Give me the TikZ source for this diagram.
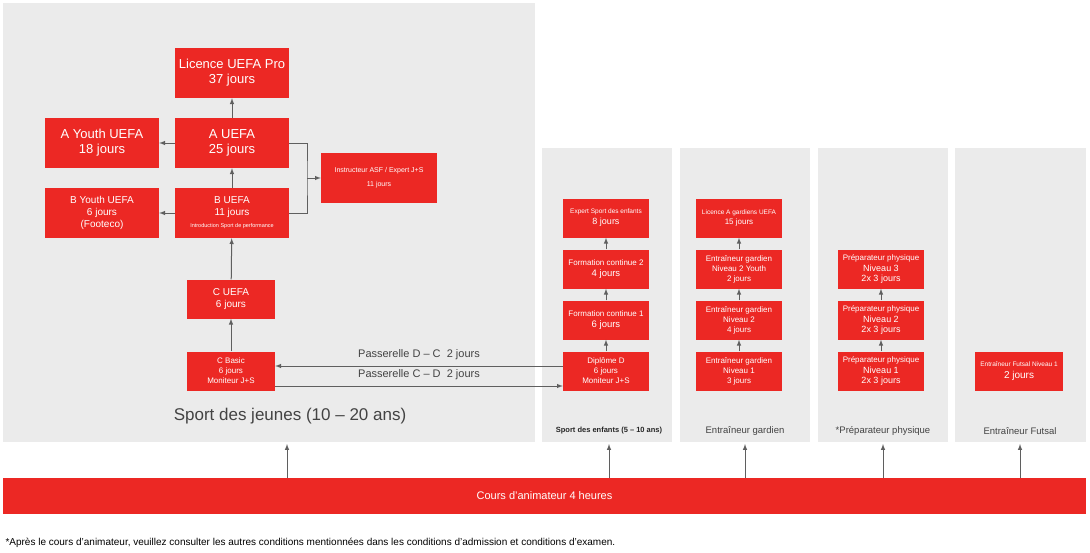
\documentclass[tikz,border=0pt]{standalone}
\usepackage{fontspec}
\setmainfont{Liberation Sans}
\usetikzlibrary{positioning}
\definecolor{rr}{RGB}{236, 40, 36}
\definecolor{pg}{RGB}{235, 235, 235}
\definecolor{ag}{RGB}{95, 95, 95}
\tikzset{
  big/.style={fill=rr, text=white, minimum width=114pt, minimum height=50pt, align=center, inner sep=1pt, font=\fontsize{13}{15}\selectfont},
  mid/.style={fill=rr, text=white, minimum width=86pt, minimum height=39pt, align=center, inner sep=1pt, font=\fontsize{9.5}{11}\selectfont},
  tiny/.style={font=\fontsize{6.5}{8}\selectfont},
  up/.style={draw=ag, line width=1pt, -latex},
  panel/.style={fill=pg, draw=none}
}
\begin{document}
\begin{tikzpicture}[x=1pt, y=-1pt]
\useasboundingbox (0,0) rectangle (1090,552);
% panels
\fill [pg] (3,3) rectangle (535,442);
\fill [pg] (542,148) rectangle (672,442);
\fill [pg] (680,148) rectangle (810,442);
\fill [pg] (818,148) rectangle (948,442);
\fill [pg] (955,148) rectangle (1086,442);
\node (bar) [fill=rr, text=white, minimum width=1083pt, minimum height=36pt, font=\fontsize{11}{13}\selectfont] at (544.5,496) {Cours d’animateur 4 heures};
% Sport des jeunes
\node (pro) [big] at (232,73) {Licence UEFA Pro\\37 jours};
\node (a) [big] at (232,143) {A UEFA\\25 jours};
\node (ay) [big] at (102,143) {A Youth UEFA\\18 jours};
\node (b) [big, font=\fontsize{10}{12}\selectfont] at (232,213) {B UEFA\\11 jours\\{\fontsize{5.5}{7}\selectfont Introduction Sport de performance}};
\node (by) [big, font=\fontsize{10}{12}\selectfont] at (102,213) {B Youth UEFA\\6 jours\\(Footeco)};
\node (instr) [big, minimum width=116pt, font=\fontsize{7}{14}\selectfont] at (379,178) {Instructeur ASF / Expert J+S\\11 jours};
\node (c) [mid, minimum width=88pt, font=\fontsize{10}{12}\selectfont] at (231,299) {C UEFA\\6 jours};
\node (cb) [mid, minimum width=88pt, font=\fontsize{8}{10}\selectfont] at (231,371) {C Basic\\6 jours\\Moniteur J+S};
\draw [up] (a) -- (pro);
\draw [up] (b) -- (a);
\draw [up] (c) -- (b);
\draw [up] (cb) -- (c);
\draw [up] (a) -- (ay);
\draw [up] (b) -- (by);
\coordinate (jn) at (307,178);
\draw [draw=ag, line width=1pt] (a.east) -| (jn) |- (b.east);
\draw [up] (jn) -- (instr);
\node (jeunes) [text=ag!70!black, font=\fontsize{17}{20}\selectfont] at (290,416) {Sport des jeunes (10 – 20 ans)};
% Sport des enfants
\node (ex) [mid, font=\fontsize{9}{11}\selectfont] at (606,218) {{\tiny\fontsize{6.5}{8}\selectfont Expert Sport des enfants}\\8 jours};
\node (fc2) [mid] at (606,269) {{\fontsize{8}{10}\selectfont Formation continue 2}\\4 jours};
\node (fc1) [mid] at (606,320) {{\fontsize{8}{10}\selectfont Formation continue 1}\\6 jours};
\node (dd) [mid, font=\fontsize{8}{10}\selectfont] at (606,371) {Diplôme D\\6 jours\\Moniteur J+S};
\draw [up] (dd) -- (fc1);
\draw [up] (fc1) -- (fc2);
\draw [up] (fc2) -- (ex);
\draw [up] (dd.west |- 0,366) -- (cb.east |- 0,366) node [midway, above=2pt, text=ag!70!black, font=\fontsize{11}{13}\selectfont] {Passerelle D – C\ \ 2 jours};
\draw [up] (cb.east |- 0,386) -- (dd.west |- 0,386) node [midway, above=2pt, text=ag!70!black, font=\fontsize{11}{13}\selectfont] {Passerelle C – D\ \ 2 jours};
% Entraineur gardien
\node (g4) [mid, font=\fontsize{8}{10}\selectfont] at (739,218) {{\fontsize{6.5}{8}\selectfont Licence A gardiens UEFA}\\15 jours};
\node (g3) [mid, font=\fontsize{8}{10}\selectfont] at (739,269) {Entraîneur gardien\\Niveau 2 Youth\\2 jours};
\node (g2) [mid, font=\fontsize{8}{10}\selectfont] at (739,320) {Entraîneur gardien\\Niveau 2\\4 jours};
\node (g1) [mid, font=\fontsize{8}{10}\selectfont] at (739,371) {Entraîneur gardien\\Niveau 1\\3 jours};
\draw [up] (g1) -- (g2);
\draw [up] (g2) -- (g3);
\draw [up] (g3) -- (g4);
% Preparateur physique
\node (p3) [mid, font=\fontsize{9}{10.5}\selectfont] at (881,269) {{\fontsize{8}{10}\selectfont Préparateur physique}\\Niveau 3\\2x 3 jours};
\node (p2) [mid, font=\fontsize{9}{10.5}\selectfont] at (881,320) {{\fontsize{8}{10}\selectfont Préparateur physique}\\Niveau 2\\2x 3 jours};
\node (p1) [mid, font=\fontsize{9}{10.5}\selectfont] at (881,371) {{\fontsize{8}{10}\selectfont Préparateur physique}\\Niveau 1\\2x 3 jours};
\draw [up] (p1) -- (p2);
\draw [up] (p2) -- (p3);
% Futsal
\node (fu) [mid, minimum width=88pt, font=\fontsize{10}{12}\selectfont] at (1019,371) {{\fontsize{6.5}{8}\selectfont Entraîneur Futsal Niveau 1}\\2 jours};
% panel labels
\node (l1) [text=black!85, font=\fontsize{7.5}{9}\bfseries] at (609,431) {Sport des enfants (5 – 10 ans)};
\node (l2) [text=ag!70!black, font=\fontsize{9.5}{11}\selectfont] at (745,431) {Entraîneur gardien};
\node (l3) [text=ag!70!black, font=\fontsize{9.5}{11}\selectfont] at (883,431) {*Préparateur physique};
\node (l4) [text=ag!70!black, font=\fontsize{9.5}{11}\selectfont] at (1020,431) {Entraîneur Futsal};
% arrows from bar
\foreach \xx in {287,609,745,883,1020}
  \draw [up] (bar.north -| \xx,0) -- (\xx,444);
\node (note) [anchor=west, font=\fontsize{10}{12}\selectfont] at (2,543) {*Après le cours d’animateur, veuillez consulter les autres conditions mentionnées dans les conditions d’admission et conditions d’examen.};
\end{tikzpicture}
\end{document}
